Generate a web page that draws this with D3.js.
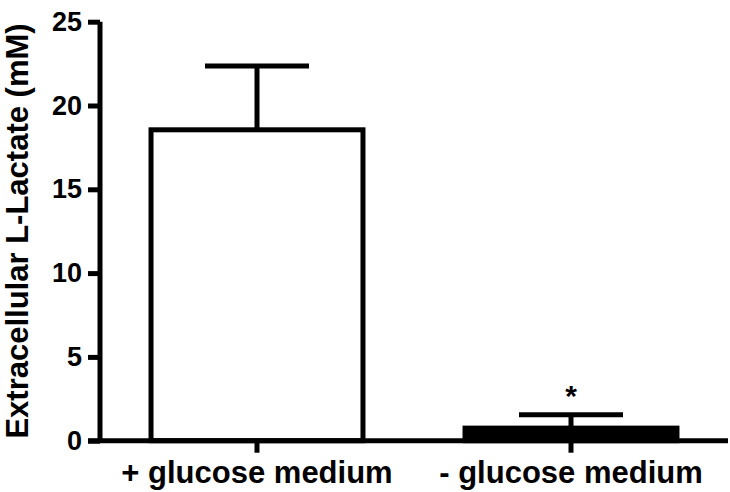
<!DOCTYPE html>
<html><head><meta charset="utf-8">
<script src="https://cdn.jsdelivr.net/npm/d3@7"></script>
<style>body{margin:0;background:#fff}svg{display:block}text{font-family:"Liberation Sans",Arial,sans-serif;font-weight:bold}</style>
</head><body>
<script>
const categories = ["+ glucose medium", "- glucose medium"];
const means = [18.55, 0.75];
const errors = [3.8, 0.8];
const fills = ["#ffffff", "#000000"];
const yTicks = [0, 5, 10, 15, 20, 25];
const marks = ["", "*"];

const W = 730, H = 492;
const svg = d3.select("body").append("svg").attr("width", W).attr("height", H);
const x = d3.scaleBand().domain(categories).range([100, 728]).paddingInner(0.325).paddingOuter(0.1625);
const y = d3.scaleLinear().domain([0, 25]).range([440.7, 21.7]);
const sw = 5;

const bars = svg.append("g");
bars.selectAll("rect").data(categories).join("rect")
  .attr("x", d => x(d))
  .attr("y", (d, i) => y(means[i]))
  .attr("width", x.bandwidth())
  .attr("height", (d, i) => y(0) - y(means[i]))
  .attr("fill", (d, i) => fills[i])
  .attr("stroke", "#000").attr("stroke-width", sw);

const capW = 104;
const eb = svg.append("g").attr("stroke", "#000").attr("stroke-width", sw);
categories.forEach((c, i) => {
  const cx = x(c) + x.bandwidth() / 2;
  eb.append("line").attr("x1", cx).attr("x2", cx).attr("y1", y(means[i])).attr("y2", y(means[i] + errors[i]));
  eb.append("line").attr("x1", cx - capW / 2).attr("x2", cx + capW / 2).attr("y1", y(means[i] + errors[i])).attr("y2", y(means[i] + errors[i]));
  if (marks[i]) svg.append("text").attr("x", cx).attr("y", y(means[i] + errors[i]) - 9).attr("text-anchor", "middle")
    .attr("font-size", 30).attr("font-weight", "normal").text(marks[i]);
});

const yAxis = svg.append("g").attr("transform", "translate(100,0)")
  .call(d3.axisLeft(y).tickValues(yTicks).tickFormat(d3.format("d")).tickSize(12).tickPadding(6));
yAxis.select(".domain").attr("stroke-width", sw).attr("d", `M0,${y(25)}V${y(0)}`);
yAxis.selectAll(".tick line").attr("stroke-width", sw);
yAxis.selectAll(".tick text").attr("font-size", 27).attr("font-family", "Liberation Sans, Arial, sans-serif").attr("font-weight", "bold").attr("fill", "#000");

const xAxis = svg.append("g").attr("transform", `translate(0,${y(0)})`)
  .call(d3.axisBottom(x).tickSize(12).tickPadding(8));
xAxis.select(".domain").attr("stroke-width", sw).attr("d", "M88,0H728");
xAxis.selectAll(".tick line").attr("stroke-width", sw);
xAxis.selectAll(".tick text").attr("font-size", 31).attr("font-family", "Liberation Sans, Arial, sans-serif").attr("font-weight", "bold").attr("fill", "#000");

svg.append("text").attr("transform", `translate(28,231) rotate(-90)`).attr("text-anchor", "middle")
  .attr("font-size", 31).text("Extracellular L-Lactate (mM)");
</script>
</body></html>
